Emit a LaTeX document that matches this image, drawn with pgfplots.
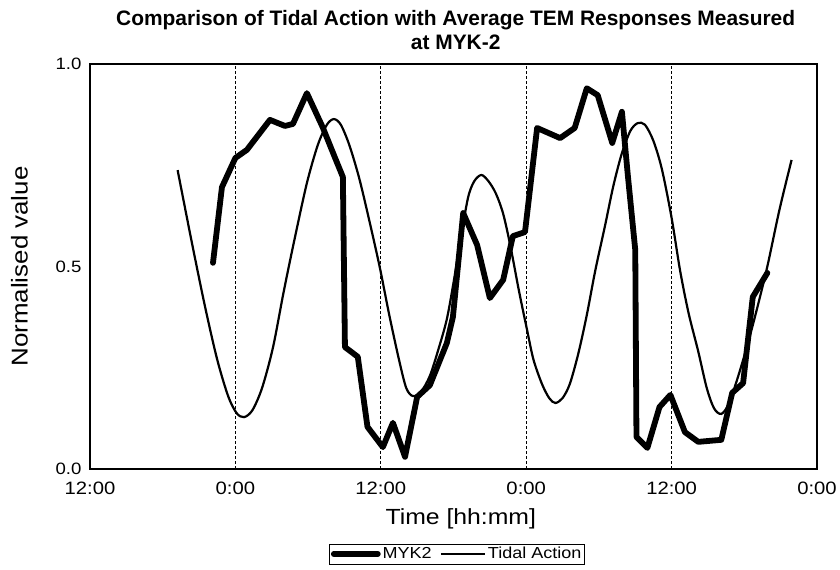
\documentclass[border=0pt]{standalone}
\usepackage{fontspec}
\setmainfont{Liberation Sans}
\newfontfamily\widefont[FakeStretch=1.13]{Liberation Sans}
\usepackage{pgfplots}
\pgfplotsset{compat=1.18}

\begin{document}
\begin{tikzpicture}[x=1bp,y=1bp]
\useasboundingbox (0,0) rectangle (840,570);
\begin{axis}[
  at={(90bp,101bp)}, anchor=south west,
  width=727bp, height=405bp, scale only axis,
  xmin=-12, xmax=48, ymin=0, ymax=1,
  xtick={-12,0,12,24,36,48},
  xticklabels={12:00,0:00,12:00,0:00,12:00,0:00},
  ytick={0,0.5,1},
  yticklabel style={/pgf/number format/fixed, /pgf/number format/fixed zerofill, /pgf/number format/precision=1},
  /pgf/number format/assume math mode=true,
  major tick length=0pt,
  xmajorgrids,
  major grid style={black, line width=0.7bp, dash pattern=on 3bp off 2bp},
  axis line style={line width=2bp},
  x tick label style={font=\widefont\fontsize{18}{20}\selectfont, yshift=-9bp},
  y tick label style={font=\widefont\fontsize{16.5}{18}\selectfont, xshift=-5bp},
  xlabel={Time [hh:mm]},
  ylabel={Normalised value},
  x label style={font=\widefont\fontsize{22}{24}\selectfont, at={(axis description cs:0.51,-0.123)}, anchor=center},
  y label style={font=\widefont\fontsize{23}{24}\selectfont, at={(axis description cs:-0.097,0.5)}, anchor=center},
  title={Comparison of Tidal Action with Average TEM Responses Measured\\at MYK-2},
  title style={font=\bfseries\fontsize{21}{24}\selectfont, align=center, at={(axis description cs:0.503,1)}, anchor=south, yshift=5bp},
  legend columns=2,
  legend style={at={(axis description cs:0.505,-0.184)}, anchor=north, draw=black, line width=0.8bp,
    font=\widefont\fontsize{16}{18}\selectfont, inner sep=1.5bp,
    /tikz/every even column/.append style={column sep=6bp}},
  legend image code/.code={\draw[#1] (0bp,0bp) -- (44bp,0bp);},
]
\addplot[black, line width=5.8bp, line join=round, line cap=round] coordinates {
(-1.85,0.509) (-1.11,0.696) (0,0.768) (0.95,0.788) (2.85,0.862) (4.09,0.847)
(4.75,0.852) (5.9,0.928) (7.2,0.844) (8.2,0.770) (8.87,0.721) (9.04,0.301)
(10.1,0.277) (10.9,0.104) (12.17,0.054) (13.0,0.114) (14.0,0.030) (15.0,0.178)
(16.05,0.207) (17.45,0.311) (17.95,0.375) (18.8,0.632) (19.95,0.553) (21.0,0.422)
(22.1,0.467) (22.9,0.575) (23.9,0.585) (24.9,0.842) (26.8,0.817) (28.0,0.842)
(29.0,0.940) (29.9,0.923) (31.1,0.805) (31.9,0.882) (32.4,0.721) (33.0,0.541)
(33.1,0.079) (34.0,0.052) (35.0,0.153) (35.9,0.183) (37.1,0.091) (38.2,0.067)
(40.1,0.072) (41.0,0.188) (41.9,0.212) (42.7,0.425) (43.9,0.484)
};
\addlegendentry{MYK2}
\addplot[black, line width=2.2bp, smooth, tension=0.5] coordinates {
(-4.77,0.738) (-3.6,0.56) (-2.5,0.40) (-1.5,0.27) (-0.6,0.18) (0.1,0.138)
(0.71,0.128) (1.4,0.145) (2.2,0.20) (3.1,0.30) (4.0,0.44) (4.9,0.57)
(5.9,0.706) (6.8,0.80) (7.55,0.850) (8.13,0.864) (8.7,0.85) (9.4,0.80)
(10.2,0.72) (11.0,0.62) (11.9,0.50) (12.7,0.38) (13.5,0.27) (14.1,0.20)
(14.65,0.180) (15.3,0.19) (16.05,0.23) (16.8,0.30) (17.45,0.37) (18.0,0.46)
(18.6,0.57) (19.2,0.67) (19.7,0.71) (20.3,0.726) (20.9,0.71) (21.5,0.68)
(22.1,0.63) (22.7,0.55) (23.4,0.44) (24.06,0.345) (24.6,0.27) (25.3,0.21)
(25.9,0.175) (26.4,0.163) (27.0,0.175) (27.6,0.21) (28.3,0.285) (29.0,0.38)
(29.7,0.49) (30.5,0.60) (31.2,0.70) (31.9,0.78) (32.6,0.835) (33.2,0.854)
(33.8,0.85) (34.5,0.81) (35.2,0.74) (36.0,0.62) (36.7,0.49) (37.4,0.385)
(38.2,0.29) (38.9,0.20) (39.5,0.15) (40.1,0.136) (40.7,0.16) (41.4,0.22)
(42.2,0.30) (43.0,0.39) (43.9,0.50) (44.9,0.64) (45.9,0.763)
};
\addlegendentry{Tidal Action}
\end{axis}
\end{tikzpicture}
\end{document}
